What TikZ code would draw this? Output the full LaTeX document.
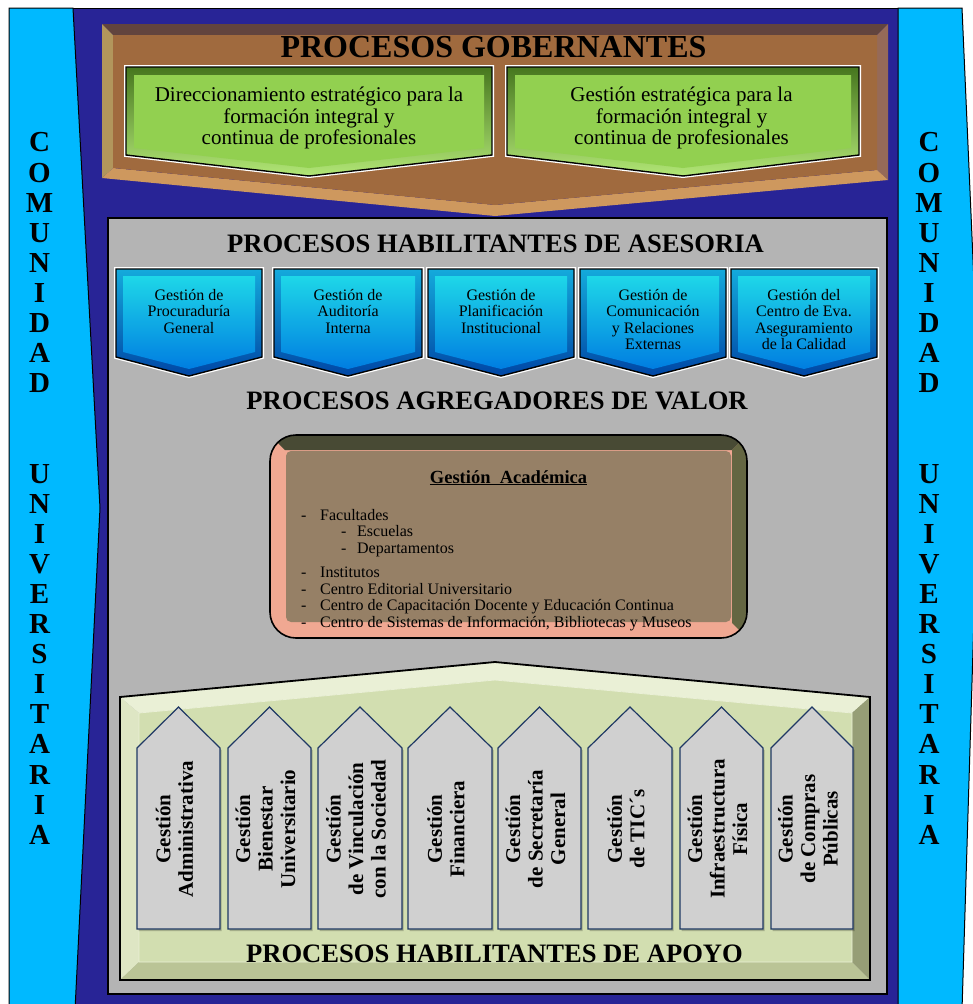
\documentclass[tikz,border=0pt]{standalone}
\usepackage{fontspec}
\setmainfont{Liberation Serif}

\definecolor{navybg}{RGB}{40,36,150}
\definecolor{sidecyan}{RGB}{0,185,255}
\definecolor{govbrown}{RGB}{160,106,62}
\definecolor{browntop}{RGB}{98,68,62}
\definecolor{brownleft}{RGB}{178,150,92}
\definecolor{brownright}{RGB}{150,106,88}
\definecolor{brownbot}{RGB}{206,152,94}
\definecolor{govgreen}{RGB}{146,208,80}
\definecolor{greentop}{RGB}{70,118,30}
\definecolor{greenbot}{RGB}{178,230,118}
\definecolor{bluetop}{RGB}{20,170,220}
\definecolor{bluebot}{RGB}{0,70,165}
\definecolor{bluecoretop}{RGB}{30,215,232}
\definecolor{bluecorebot}{RGB}{0,125,225}
\definecolor{panelgray}{RGB}{180,180,180}
\definecolor{acadfill}{RGB}{150,128,102}
\definecolor{acaddark}{RGB}{72,74,52}
\definecolor{acadolive}{RGB}{100,102,66}
\definecolor{acadlight}{RGB}{240,168,146}
\definecolor{apoyofill}{RGB}{210,222,176}
\definecolor{apoyolight}{RGB}{234,240,214}
\definecolor{apoyoside}{RGB}{222,230,196}
\definecolor{apoyodark}{RGB}{150,158,118}
\definecolor{apoyobot}{RGB}{186,196,150}
\definecolor{housegray}{RGB}{208,208,208}
\definecolor{houseline}{RGB}{31,56,100}

\tikzset{
  bandtext/.style={font=\fontsize{29}{30.1}\selectfont\bfseries, align=center, inner sep=0pt},
  headtext/.style={font=\fontsize{26.6}{28}\selectfont\bfseries, inner sep=0pt},
  govtext/.style={font=\fontsize{21}{21.5}\selectfont, align=center, inner sep=0pt},
  asestext/.style={font=\fontsize{16}{16.5}\selectfont, align=center, inner sep=0pt, anchor=north},
  apoyotext/.style={font=\fontsize{21}{22.5}\selectfont\bfseries, align=center, inner sep=0pt, rotate=90},
  whiterim/.style={draw=white, line width=4pt},
  greenface/.style={top color=greentop, bottom color=greenbot, draw=black, line width=1.4pt},
  blueface/.style={top color=bluetop, bottom color=bluebot, draw=black, line width=1.4pt},
  bluecore/.style={top color=bluecoretop, bottom color=bluecorebot},
  housebox/.style={fill=housegray, draw=houseline, line width=1.2pt},
  houseshadow/.style={fill=black, opacity=0.22, xshift=1.5pt, yshift=-2pt}
}

\begin{document}
\begin{tikzpicture}[x=1pt,y=-1pt]
\useasboundingbox (0,0) rectangle (973,1004);
\clip (0,0) rectangle (973,1004);
\fill[white] (0,0) rectangle (973,1004);

\filldraw[fill=navybg, draw=black, line width=1pt] (60,8) rectangle (910,1010);
\filldraw[fill=sidecyan, draw=black, line width=1pt] (9,8) -- (73,8) -- (100,508) -- (75,1010) -- (9,1010) -- cycle;
\filldraw[fill=sidecyan, draw=black, line width=1pt] (898,8) -- (962,8) -- (980,420) -- (962,1010) -- (898,1010) -- cycle;

\fill[browntop] (102,24) -- (888,24) -- (877,35) -- (113,35) -- cycle;
\fill[brownright] (888,24) -- (888,180) -- (877,170) -- (877,35) -- cycle;
\fill[brownbot] (888,180) -- (495,216) -- (495,205) -- (877,170) -- cycle;
\fill[brownbot] (495,216) -- (102,178) -- (113,168) -- (495,205) -- cycle;
\fill[brownleft] (102,178) -- (102,24) -- (113,35) -- (113,168) -- cycle;
\fill[govbrown] (113,35) -- (877,35) -- (877,170) -- (495,205) -- (113,168) -- cycle;
\node[headtext, font=\fontsize{32}{34}\selectfont\bfseries] (gov) at (493.5,47.5) {PROCESOS GOBERNANTES};

\draw[whiterim] (126,67) -- (492,67) -- (492,155) -- (309,176) -- (126,155) -- cycle;
\shadedraw[greenface] (126,67) -- (492,67) -- (492,155) -- (309,176) -- (126,155) -- cycle;
\fill[govgreen] (134,75) -- (484,75) -- (484,148) -- (309,168) -- (134,148) -- cycle;
\node[govtext] (govdir) at (309,118) {Direccionamiento estratégico para la\\formación integral y\\continua de profesionales};

\draw[whiterim] (507,67) -- (859,67) -- (859,155) -- (683,176) -- (507,155) -- cycle;
\shadedraw[greenface] (507,67) -- (859,67) -- (859,155) -- (683,176) -- (507,155) -- cycle;
\fill[govgreen] (515,75) -- (851,75) -- (851,148) -- (683,168) -- (515,148) -- cycle;
\node[govtext] (govgest) at (681.5,118) {Gestión estratégica para la\\formación integral y\\continua de profesionales};

\filldraw[fill=panelgray, draw=black, line width=1.5pt] (108,218) rectangle (887,994);
\node[headtext] (asestitle) at (495.5,244) {PROCESOS HABILITANTES DE ASESORIA};

\draw[whiterim] (116,269) -- (262,269) -- (262,357) -- (189,376) -- (116,357) -- cycle;
\shadedraw[blueface] (116,269) -- (262,269) -- (262,357) -- (189,376) -- (116,357) -- cycle;
\shade[bluecore] (123,276) -- (255,276) -- (255,352) -- (189,369) -- (123,352) -- cycle;
\node[asestext] (asesproc) at (189,289) {Gestión de\\Procuraduría\\General};

\draw[whiterim] (274,269) -- (422,269) -- (422,357) -- (348,376) -- (274,357) -- cycle;
\shadedraw[blueface] (274,269) -- (422,269) -- (422,357) -- (348,376) -- (274,357) -- cycle;
\shade[bluecore] (281,276) -- (415,276) -- (415,352) -- (348,369) -- (281,352) -- cycle;
\node[asestext] (asesaud) at (348,289) {Gestión de\\Auditoría\\Interna};

\draw[whiterim] (428,269) -- (574,269) -- (574,357) -- (501,376) -- (428,357) -- cycle;
\shadedraw[blueface] (428,269) -- (574,269) -- (574,357) -- (501,376) -- (428,357) -- cycle;
\shade[bluecore] (435,276) -- (567,276) -- (567,352) -- (501,369) -- (435,352) -- cycle;
\node[asestext] (asesplan) at (501,289) {Gestión de\\Planificación\\Institucional};

\draw[whiterim] (580,269) -- (726,269) -- (726,357) -- (653,376) -- (580,357) -- cycle;
\shadedraw[blueface] (580,269) -- (726,269) -- (726,357) -- (653,376) -- (580,357) -- cycle;
\shade[bluecore] (587,276) -- (719,276) -- (719,352) -- (653,369) -- (587,352) -- cycle;
\node[asestext] (asescom) at (653,289) {Gestión de\\Comunicación\\y Relaciones\\Externas};

\draw[whiterim] (731,269) -- (877,269) -- (877,357) -- (804,376) -- (731,357) -- cycle;
\shadedraw[blueface] (731,269) -- (877,269) -- (877,357) -- (804,376) -- (731,357) -- cycle;
\shade[bluecore] (738,276) -- (870,276) -- (870,352) -- (804,369) -- (738,352) -- cycle;
\node[asestext] (asescal) at (804,289) {Gestión del\\Centro de Eva.\\Aseguramiento\\de la Calidad};

\node[headtext] (valortitle) at (497,401) {PROCESOS AGREGADORES DE VALOR};

\begin{scope}
\clip[rounded corners=26pt] (270,435) rectangle (747,638);
\fill[acadlight] (260,425) rectangle (757,648);
\fill[acaddark] (260,425) -- (757,425) -- (732,450) -- (285,450) -- cycle;
\fill[acadolive] (757,425) -- (757,648) -- (732,623) -- (732,450) -- cycle;
\end{scope}
\fill[acadfill, rounded corners=5pt] (286,451) rectangle (731,622);
\draw[black, line width=1.6pt, rounded corners=26pt] (270,435) rectangle (747,638);
\node[font=\fontsize{18.5}{20}\selectfont\bfseries, inner sep=0pt, anchor=base] (acadtitle) at (508.5,483) {\underline{Gestión\ \ Académica}};
\node[font=\fontsize{16}{16.6}\selectfont, align=left, inner sep=0pt, anchor=north west] (acadlist) at (301,509)
  {\makebox[19pt][l]{-}Facultades\\
   \hspace*{40pt}\makebox[16pt][l]{-}Escuelas\\
   \hspace*{40pt}\makebox[16pt][l]{-}Departamentos\\[7.4pt]
   \makebox[19pt][l]{-}Institutos\\
   \makebox[19pt][l]{-}Centro Editorial Universitario\\
   \makebox[19pt][l]{-}Centro de Capacitación Docente y Educación Continua\\
   \makebox[19pt][l]{-}Centro de Sistemas de Información, Bibliotecas y Museos};

\fill[apoyolight] (120,697) -- (495,662) -- (495,680) -- (139,713) -- cycle;
\fill[apoyolight] (495,662) -- (870,697) -- (852,713) -- (495,680) -- cycle;
\fill[apoyoside] (120,697) -- (139,713) -- (139,962) -- (120,980) -- cycle;
\fill[apoyodark] (870,697) -- (870,980) -- (852,962) -- (852,713) -- cycle;
\fill[apoyobot] (120,980) -- (139,962) -- (852,962) -- (870,980) -- cycle;
\filldraw[fill=apoyofill, draw=apoyolight, line width=0.8pt] (139,713) -- (495,680) -- (852,713) -- (852,962) -- (139,962) -- cycle;
\draw[black, line width=1.8pt] (120,697) -- (495,662) -- (870,697) -- (870,980) -- (120,980) -- cycle;

\fill[houseshadow] (137,929) -- (137,748) -- (178.5,707) -- (220,748) -- (220,929) -- cycle;
\draw[housebox] (137,929) -- (137,748) -- (178.5,707) -- (220,748) -- (220,929) -- cycle;
\fill[houseshadow] (228,929) -- (228,748) -- (269.5,707) -- (311,748) -- (311,929) -- cycle;
\draw[housebox] (228,929) -- (228,748) -- (269.5,707) -- (311,748) -- (311,929) -- cycle;
\fill[houseshadow] (318,929) -- (318,748) -- (360,707) -- (402,748) -- (402,929) -- cycle;
\draw[housebox] (318,929) -- (318,748) -- (360,707) -- (402,748) -- (402,929) -- cycle;
\fill[houseshadow] (408,929) -- (408,748) -- (450,707) -- (492,748) -- (492,929) -- cycle;
\draw[housebox] (408,929) -- (408,748) -- (450,707) -- (492,748) -- (492,929) -- cycle;
\fill[houseshadow] (498,929) -- (498,748) -- (539.5,707) -- (581,748) -- (581,929) -- cycle;
\draw[housebox] (498,929) -- (498,748) -- (539.5,707) -- (581,748) -- (581,929) -- cycle;
\fill[houseshadow] (588,929) -- (588,748) -- (630,707) -- (672,748) -- (672,929) -- cycle;
\draw[housebox] (588,929) -- (588,748) -- (630,707) -- (672,748) -- (672,929) -- cycle;
\fill[houseshadow] (680,929) -- (680,748) -- (721.5,707) -- (763,748) -- (763,929) -- cycle;
\draw[housebox] (680,929) -- (680,748) -- (721.5,707) -- (763,748) -- (763,929) -- cycle;
\fill[houseshadow] (771,929) -- (771,748) -- (812,707) -- (853,748) -- (853,929) -- cycle;
\draw[housebox] (771,929) -- (771,748) -- (812,707) -- (853,748) -- (853,929) -- cycle;

\node[apoyotext] (apoyoadm) at (174.5,829) {Gestión\\Administrativa};
\node[apoyotext] (apoyobien) at (265.5,829) {Gestión\\Bienestar\\Universitario};
\node[apoyotext] (apoyovinc) at (356,829) {Gestión\\de Vinculación\\con la Sociedad};
\node[apoyotext] (apoyofin) at (446,829) {Gestión\\Financiera};
\node[apoyotext] (apoyosec) at (535.5,829) {Gestión\\de Secretaría\\General};
\node[apoyotext] (apoyotic) at (626,829) {Gestión\\de TIC´s};
\node[apoyotext] (apoyoinf) at (717.5,829) {Gestión\\Infraestructura\\Física};
\node[apoyotext] (apoyocomp) at (808,829) {Gestión\\de Compras\\Públicas};

\node[headtext] (apoyotitle) at (494.5,954) {PROCESOS HABILITANTES DE APOYO};

\node[bandtext] (bandleft) at (39.5,488.5) {C\\O\\M\\U\\N\\I\\D\\A\\D\\[60.2pt]U\\N\\I\\V\\E\\R\\S\\I\\T\\A\\R\\I\\A};
\node[bandtext] (bandright) at (929,488.5) {C\\O\\M\\U\\N\\I\\D\\A\\D\\[60.2pt]U\\N\\I\\V\\E\\R\\S\\I\\T\\A\\R\\I\\A};
\end{tikzpicture}
\end{document}
